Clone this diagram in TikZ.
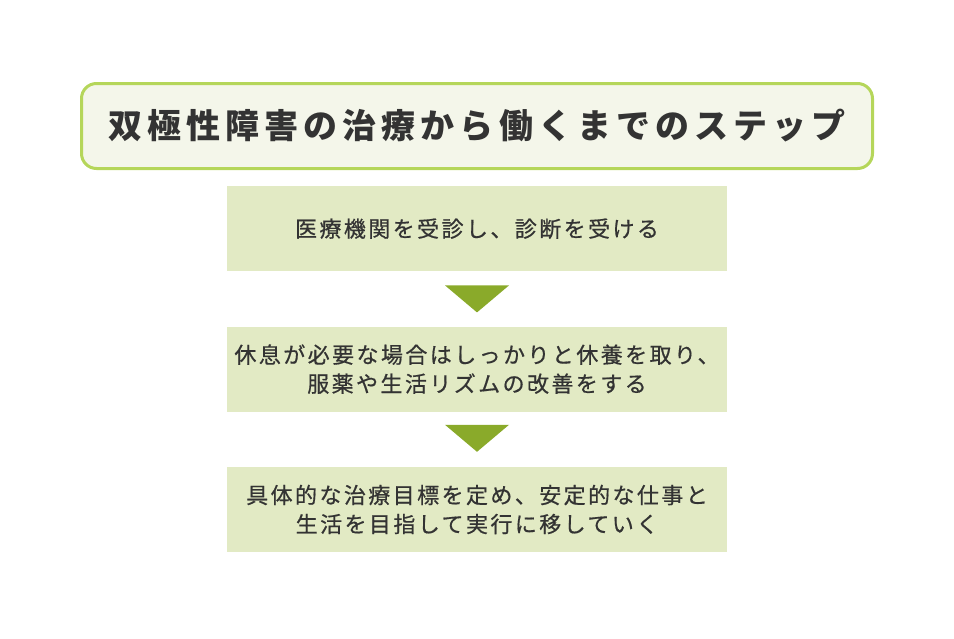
\documentclass[tikz,border=0pt]{standalone}
\usepackage{fontspec}
\setmainfont{Noto Sans CJK JP}
\newfontfamily\titlefont[LetterSpace=15]{Noto Sans CJK JP}
\newfontfamily\stepfont[LetterSpace=11,FakeBold=0.6]{Noto Sans CJK JP}
\usetikzlibrary{positioning}
\definecolor{titlefill}{HTML}{F4F6EA}
\definecolor{titleline}{HTML}{B5D65A}
\definecolor{stepfill}{HTML}{E2EAC4}
\definecolor{arrowfill}{HTML}{8AAA2A}
\definecolor{textdark}{HTML}{333333}

\begin{document}
\begin{tikzpicture}[x=1pt,y=1pt]
        \tikzset{titlebox/.style={draw=titleline,
                line width=3pt,
                fill=titlefill,
                rounded corners=15pt,
                text=textdark,
                align=center,
                minimum width=791pt,
                minimum height=85pt,
                font=\titlefont\fontsize{34}{40}\selectfont\bfseries
            },
            stepbox/.style={fill=stepfill,
                text=textdark,
                align=center,
                minimum width=500pt,
                minimum height=85pt,
                inner sep=0pt,
                font=\stepfont\fontsize{22}{29}\selectfont
            },
            downarrow/.style={fill=arrowfill},
        }
        \useasboundingbox (0,0) rectangle (954,-638);
        \node [titlebox] (title) at (477,-126)
            {双極性障害の治療から働くまでのステップ};
        \node [stepbox, below =16pt of title] (diagnose)
            {医療機関を受診し、診断を受ける};
        \node [stepbox, below =55pt of diagnose] (rest)
            {休息が必要な場合はしっかりと休養を取り、\\服薬や生活リズムの改善をする};
        \node [stepbox, below =55pt of rest] (work)
            {具体的な治療目標を定め、安定的な仕事と\\生活を目指して実行に移していく};
%% arrows
\coordinate [below =14pt of diagnose] (arrowA);
\coordinate [below =13pt of rest] (arrowB);
\fill[downarrow] (arrowA) ++(-32,0) -- ++(64,0) -- ++(-32,-27) -- cycle;
\fill[downarrow] (arrowB) ++(-32,0) -- ++(64,0) -- ++(-32,-27) -- cycle;
\end{tikzpicture}
\end{document}
